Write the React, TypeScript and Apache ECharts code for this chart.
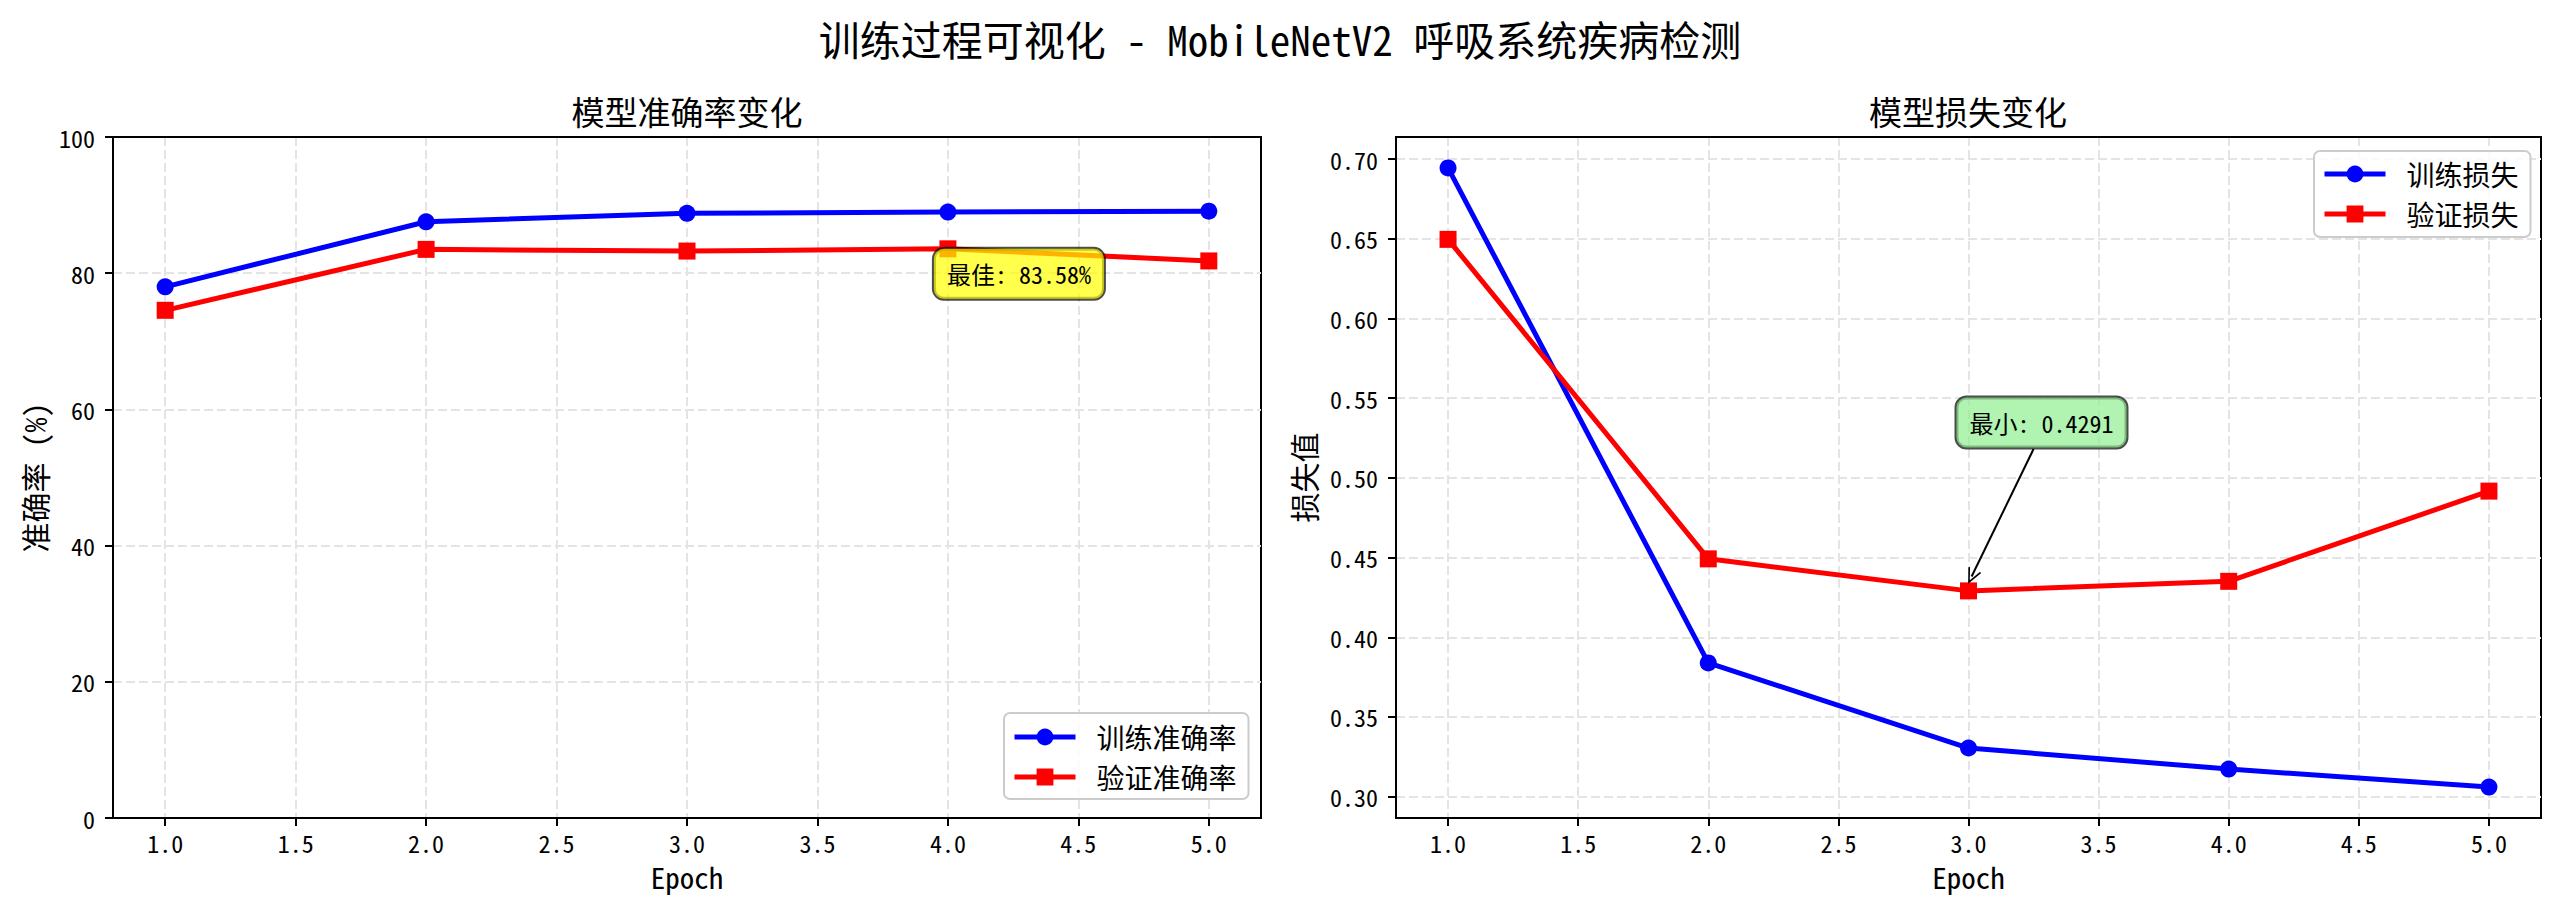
import React, { useEffect, useRef } from "react";
import * as echarts from "echarts";

const epochs = [1, 2, 3, 4, 5];
const trainAcc = [78.0, 87.55, 88.8, 88.98, 89.1];
const valAcc = [74.55, 83.5, 83.25, 83.58, 81.8];
const trainLoss = [0.6945, 0.3839, 0.3305, 0.3173, 0.306];
const valLoss = [0.6497, 0.4492, 0.4291, 0.4351, 0.4917];

const xTicks = [1.0, 1.5, 2.0, 2.5, 3.0, 3.5, 4.0, 4.5, 5.0];
const accTicks = [0, 20, 40, 60, 80, 100];
const lossTicks = [0.3, 0.35, 0.4, 0.45, 0.5, 0.55, 0.6, 0.65, 0.7];

const legendAcc = ["训练准确率", "验证准确率"];
const legendLoss = ["训练损失", "验证损失"];

const FONT = "'Noto Sans Mono CJK SC', 'Noto Sans CJK SC', 'DejaVu Sans', sans-serif";
const gridLine = { color: "#e4e4e4", width: 2, type: [9, 4] as any };

function margin(arr: number[], frac = 0.05): [number, number] {
  const lo = Math.min(...arr);
  const hi = Math.max(...arr);
  const r = hi - lo;
  return [lo - r * frac, hi + r * frac];
}

export default function App() {
  const ref = useRef<HTMLDivElement>(null);
  useEffect(() => {
    if (!ref.current) return;
    const chart = echarts.init(ref.current, null, { renderer: "svg" });
    const [xMin, xMax] = margin(epochs);
    const [lMin, lMax] = margin([...trainLoss, ...valLoss]);
    const bestVal = Math.max(...valAcc);
    const bestEpoch = epochs[valAcc.indexOf(bestVal)];
    const minLoss = Math.min(...valLoss);
    const minEpoch = epochs[valLoss.indexOf(minLoss)];

    const axisCommon = {
      axisLine: { show: true, onZero: false, lineStyle: { color: "#000", width: 2 } },
      axisTick: { show: true, length: 8, lineStyle: { color: "#000", width: 2 } },
      splitLine: { show: true, lineStyle: gridLine },
      nameTextStyle: { fontSize: 29, color: "#000", fontFamily: FONT },
    };
    const xAxisFor = (gi: number) => ({
      ...axisCommon,
      gridIndex: gi,
      type: "value",
      min: xMin,
      max: xMax,
      name: "Epoch",
      nameLocation: "middle",
      nameGap: 43,
      axisTick: { ...axisCommon.axisTick, customValues: xTicks },
      axisLabel: {
        customValues: xTicks,
        formatter: (v: number) => v.toFixed(1),
        fontSize: 24,
        color: "#000",
        margin: 12,
        fontFamily: FONT,
      },
    });
    const topBorderAxis = (gi: number) => ({
      gridIndex: gi,
      type: "value",
      position: "top",
      min: xMin,
      max: xMax,
      axisLine: { show: true, onZero: false, lineStyle: { color: "#000", width: 2 } },
      axisTick: { show: false },
      axisLabel: { show: false },
      splitLine: { show: false },
      z: 10,
    });

    const seriesLine = (name: string, data: number[], color: string, symbol: string, xi: number) => ({
      name,
      type: "line",
      xAxisIndex: xi,
      yAxisIndex: xi,
      data: epochs.map((e, i) => [e, data[i]]),
      symbol,
      symbolSize: 17,
      showSymbol: true,
      color,
      itemStyle: { color },
      lineStyle: { color, width: 5 },
      z: 3,
    });

    const boxLabel = (text: string, bg: string, offset: number[]) => ({
      show: true,
      formatter: text,
      position: "right",
      distance: 0,
      offset,
      align: "left",
      verticalAlign: "middle",
      fontSize: 24,
      lineHeight: 26,
      color: "#000",
      fontFamily: FONT,
      backgroundColor: bg,
      borderColor: "rgba(0,0,0,0.7)",
      borderWidth: 2,
      borderRadius: 10,
      padding: [12, 13, 12, 13],
    });

    const legendCommon = {
      orient: "vertical",
      itemWidth: 61,
      itemHeight: 21,
      itemGap: 12,
      borderColor: "#cccccc",
      borderWidth: 2,
      borderRadius: 6,
      backgroundColor: "rgba(255,255,255,0.85)",
      lineStyle: { width: 5 },
      textStyle: { fontSize: 28, color: "#000", fontFamily: FONT, padding: [0, 0, 0, 16] },
    };

    const option: any = {
      animation: false,
      backgroundColor: "#ffffff",
      textStyle: { fontFamily: FONT },
      graphic: [
        {
          type: "text",
          x: 1280,
          y: 38,
          style: {
            text: "训练过程可视化 - MobileNetV2 呼吸系统疾病检测",
            textAlign: "center",
            textVerticalAlign: "middle",
            fontSize: 41,
            fontFamily: FONT,
            fill: "#000",
          },
        },
        {
          type: "text",
          x: 687,
          y: 111,
          style: {
            text: "模型准确率变化",
            textAlign: "center",
            textVerticalAlign: "middle",
            fontSize: 33,
            fontFamily: FONT,
            fill: "#000",
          },
        },
        {
          type: "text",
          x: 1968,
          y: 111,
          style: {
            text: "模型损失变化",
            textAlign: "center",
            textVerticalAlign: "middle",
            fontSize: 33,
            fontFamily: FONT,
            fill: "#000",
          },
        },
      ],
      grid: [
        { left: 113, top: 137, width: 1148, height: 681, show: true, borderColor: "#000", borderWidth: 2, backgroundColor: "transparent" },
        { left: 1396, top: 137, width: 1145, height: 681, show: true, borderColor: "#000", borderWidth: 2, backgroundColor: "transparent" },
      ],
      xAxis: [xAxisFor(0), xAxisFor(1), topBorderAxis(0), topBorderAxis(1)],
      yAxis: [
        {
          ...axisCommon,
          gridIndex: 0,
          type: "value",
          min: accTicks[0],
          max: accTicks[accTicks.length - 1],
          interval: 20,
          name: "准确率 (%)",
          nameLocation: "middle",
          nameGap: 64,
          nameRotate: 90,
          nameTextStyle: { fontSize: 30, color: "#000", fontFamily: FONT },
          axisLabel: { fontSize: 24, color: "#000", margin: 18, fontFamily: FONT },
        },
        {
          ...axisCommon,
          gridIndex: 1,
          type: "value",
          min: lMin,
          max: lMax,
          name: "损失值",
          nameLocation: "middle",
          nameGap: 78,
          nameRotate: 90,
          nameTextStyle: { fontSize: 30, color: "#000", fontFamily: FONT },
          axisTick: { ...axisCommon.axisTick, customValues: lossTicks },
          axisLabel: {
            customValues: lossTicks,
            formatter: (v: number) => v.toFixed(2),
            fontSize: 24,
            color: "#000",
            margin: 18,
            fontFamily: FONT,
          },
        },
      ],
      legend: [
        { ...legendCommon, data: legendAcc, left: 1004, top: 713, padding: [10, 12, 8, 8] },
        { ...legendCommon, data: legendLoss, left: 2314, top: 151, padding: [9, 12, 9, 8] },
      ],
      series: [
        seriesLine(legendAcc[0], trainAcc, "#0000ff", "circle", 0),
        {
          ...seriesLine(legendAcc[1], valAcc, "#ff0000", "rect", 0),
          markPoint: {
            silent: true,
            symbol: "circle",
            symbolSize: 0,
            z: 10,
            data: [{ coord: [bestEpoch, bestVal - 5] }],
            label: boxLabel(`最佳: ${bestVal.toFixed(2)}%`, "rgba(255,255,0,0.7)", [-14, -9]),
          },
        },
        seriesLine(legendLoss[0], trainLoss, "#0000ff", "circle", 1),
        {
          ...seriesLine(legendLoss[1], valLoss, "#ff0000", "rect", 1),
          markPoint: {
            silent: true,
            symbol: "circle",
            symbolSize: 0,
            z: 10,
            data: [{ coord: [minEpoch, minLoss + 0.1] }],
            label: boxLabel(`最小: ${minLoss.toFixed(4)}`, "rgba(144,238,144,0.7)", [-12, -9]),
          },
          markLine: {
            silent: true,
            animation: false,
            symbol: ["none", "path://M5,0 L10,12 L9,12.8 L5,3 L1,12.8 L0,12 Z"],
            symbolSize: [14, 16],
            lineStyle: { color: "#000", width: 2, type: "solid" },
            label: { show: false },
            emphasis: { disabled: true },
            data: [
              [
                { coord: [minEpoch + 0.25, minLoss + 0.089] },
                { coord: [minEpoch + 0.012, minLoss + 0.009] },
              ],
            ],
          },
        },
      ],
    };
    chart.setOption(option);
    return () => chart.dispose();
  }, []);
  return (
    <div
      ref={ref}
      style={{ position: "fixed", left: 0, top: 0, width: 2560, height: 910, background: "#fff" }}
    />
  );
}
